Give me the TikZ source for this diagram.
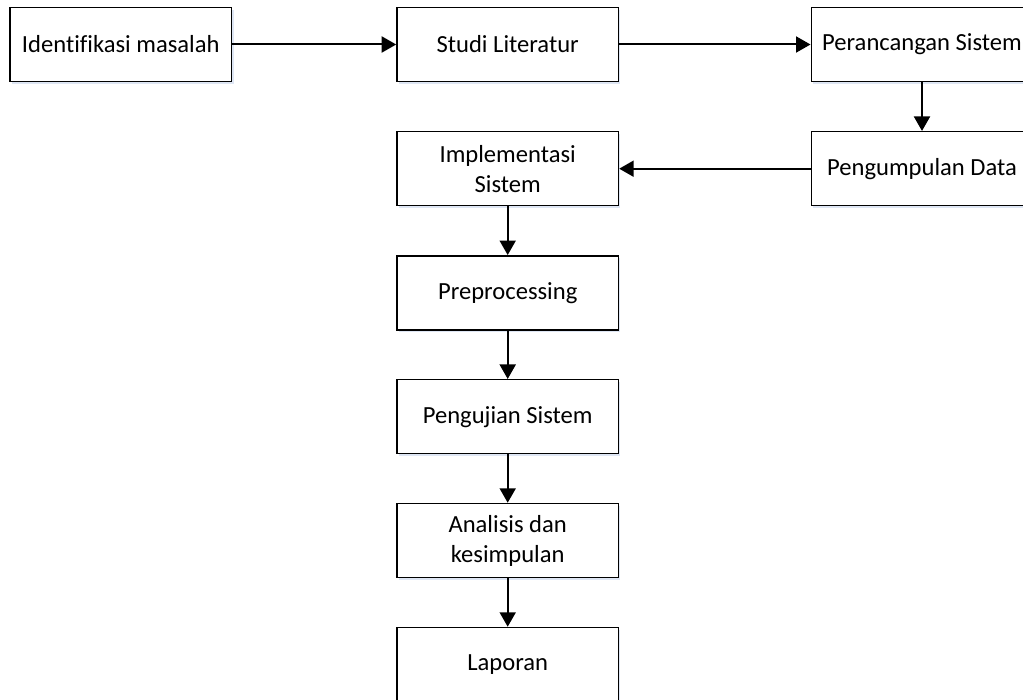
\documentclass[tikz,border=0pt]{standalone}
\usepackage{fontspec}
\setmainfont[Ligatures=NoCommon]{Carlito}
\usetikzlibrary{arrows.meta,shadows}
\begin{document}
\begin{tikzpicture}[x=1pt,y=-1pt,
  box/.style={draw=black,line width=1.5pt,fill=white,minimum width=221.5pt,minimum height=74pt,
    align=center,inner sep=2pt,font=\fontsize{24.6}{30}\selectfont,
    drop shadow={shadow xshift=2pt,shadow yshift=-2.5pt,fill={rgb,255:red,200;green,214;blue,236},opacity=0.6}},
  conn/.style={line width=2pt,-{Triangle[length=14.5pt,width=16pt]}}]
\useasboundingbox (0,0) rectangle (1023,700);
\begin{scope}
\clip (0,0) rectangle (1023,700);
\node[box] (a) at (120.8,44.5) {Identifikasi masalah};
\node[box] (b) at (507.7,44.5) {Studi Literatur};
\node[box] (c) at (922,44.5) {Perancangan Sistem};
\node[box] (d) at (922,168.7) {Pengumpulan Data};
\node[box] (e) at (507.7,168.7) {Implementasi\\Sistem};
\node[box] (f) at (507.7,292.8) {Preprocessing};
\node[box] (g) at (507.7,416.7) {Pengujian Sistem};
\node[box] (h) at (507.7,540.5) {Analisis dan\\kesimpulan};
\node[box] (i) at (507.7,664.5) {Laporan};
\draw[conn] (a) -- (b);
\draw[conn] (b) -- (c);
\draw[conn] (c) -- (d);
\draw[conn] (d) -- (e);
\draw[conn] (e) -- (f);
\draw[conn] (f) -- (g);
\draw[conn] (g) -- (h);
\draw[conn] (h) -- (i);
\end{scope}
\end{tikzpicture}
\end{document}
